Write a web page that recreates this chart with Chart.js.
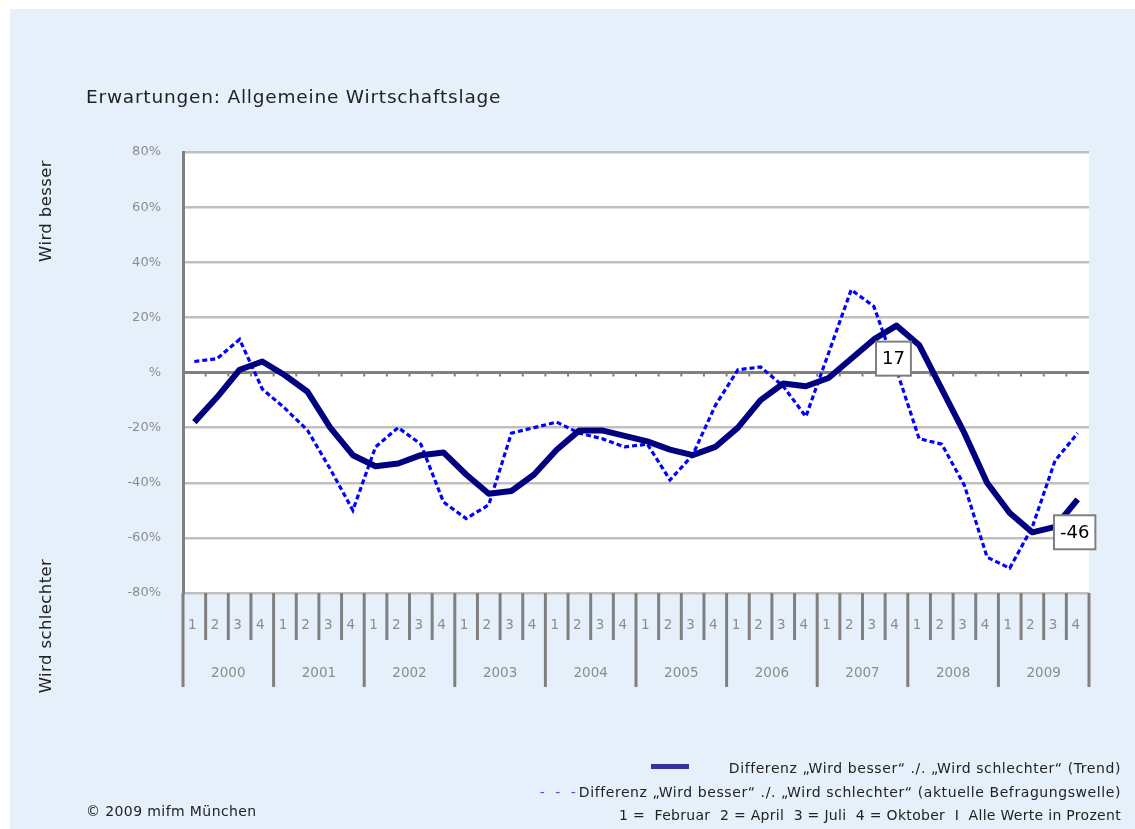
<!DOCTYPE html>
<html>
<head>
<meta charset="utf-8">
<script src="https://cdn.jsdelivr.net/npm/chart.js@4.4.1/dist/chart.umd.min.js"></script>
<style>
  body { margin: 0; background: #fff; width: 1135px; height: 829px; overflow: hidden; font-family: "DejaVu Sans", sans-serif; }
  #panel { position: absolute; left: 10px; top: 9px; width: 1125px; height: 820px; background: #e6f0fa; }
  canvas { position: absolute; left: 0; top: 0; }
  .txt { position: absolute; white-space: nowrap; color: #222; }
  .rot { transform: translate(-50%, -50%) rotate(-90deg); font-size: 16.5px; letter-spacing: 0.4px; }
  #legend { position: absolute; right: 14px; top: 757px; text-align: right; font-size: 14px; color: #222; line-height: 23.5px; }
  #legend .l { letter-spacing: 0.58px; }
  #legend .n { letter-spacing: 0.3px; }
  .swatch { display: inline-block; width: 38px; height: 5px; background: #333399; vertical-align: middle; margin-right: 40px; position: relative; top: -3px; }
  .dash { color: #3355ff; letter-spacing: 3px; }
</style>
</head>
<body>
<div id="panel"></div>
<canvas id="chart" width="1135" height="829"></canvas>
<div class="txt" style="left:86px; top:86px; font-size:18.5px; letter-spacing:0.8px;">Erwartungen: Allgemeine Wirtschaftslage</div>
<div class="txt rot" style="left:45px; top:211px;">Wird besser</div>
<div class="txt rot" style="left:45px; top:626px;">Wird schlechter</div>
<div id="legend">
  <div class="l"><span class="swatch"></span>Differenz „Wird besser“ ./. „Wird schlechter“ (Trend)</div>
  <div class="l"><span class="dash">- - -</span>Differenz „Wird besser“ ./. „Wird schlechter“ (aktuelle Befragungswelle)</div>
  <div class="n">1 =&nbsp; Februar&nbsp; 2 = April&nbsp; 3 = Juli&nbsp; 4 = Oktober&nbsp; I&nbsp; Alle Werte in Prozent</div>
</div>
<div class="txt" style="left:86px; top:803px; font-size:14px; letter-spacing:0.4px;">© 2009 mifm München</div>

<script>
// Quartale 2000 - 2009
const years = ['2000', '2001', '2002', '2003', '2004', '2005', '2006', '2007', '2008', '2009'];
const quarters = ['1', '2', '3', '4'];

// Differenz "Wird besser" ./. "Wird schlechter" (Trend)
const trend = [-18, -9, 1, 4, -1, -7, -20, -30, -34, -33, -30, -29, -37, -44, -43, -37,
    -28, -21, -21, -23, -25, -28, -30, -27, -20, -10, -4, -5, -2, 5, 12, 17,
    10, -6, -22, -40, -51, -58, -56, -46];

// Differenz (aktuelle Befragungswelle)
const wave = [4, 5, 12, -6, -13, -21, -35, -50, -27, -20, -26, -47, -53, -48, -22, -20,
    -18, -22, -24, -27, -26, -39, -30, -12, 1, 2, -5, -16, 7, 30, 24, 1,
    -24, -26, -41, -67, -71, -56, -32, -22];

const yTicks = [80, 60, 40, 20, 0, -20, -40, -60, -80];
const boxedPoints = [31, 39]; // Werte mit Kasten

const labels = [];
years.forEach(y => quarters.forEach(q => labels.push(y + '/' + q)));

const decor = {
    id: 'decor',
    beforeDraw(chart) {
        const { ctx, chartArea: a } = chart;
        ctx.save();
        ctx.fillStyle = '#fff';
        ctx.fillRect(a.left, a.top, a.right - a.left, a.bottom - a.top);
        ctx.restore();
    },
    beforeDatasetsDraw(chart) {
        const { ctx, scales } = chart;
        const x = scales.x, y = scales.y;
        const y0 = y.getPixelForValue(0);
        // kleine Striche an der Nulllinie
        ctx.save();
        ctx.strokeStyle = '#808080';
        ctx.lineWidth = 2;
        for (let i = 1; i < labels.length; i++) {
            const xb = (x.getPixelForValue(i - 1) + x.getPixelForValue(i)) / 2;
            ctx.beginPath();
            ctx.moveTo(xb, y0);
            ctx.lineTo(xb, y0 + 4);
            ctx.stroke();
        }
        ctx.restore();
    },
    afterDraw(chart) {
        const { ctx, scales, chartArea: a } = chart;
        const x = scales.x;
        const half = (x.getPixelForValue(1) - x.getPixelForValue(0)) / 2;

        ctx.save();
        // Trennstriche unter der Achse
        ctx.strokeStyle = '#808080';
        ctx.lineWidth = 3;
        for (let i = 0; i <= labels.length; i++) {
            const xb = i < labels.length ? x.getPixelForValue(i) - half : x.getPixelForValue(i - 1) + half;
            const long = i % 4 === 0;
            ctx.beginPath();
            ctx.moveTo(xb, a.bottom);
            ctx.lineTo(xb, a.bottom + (long ? 94 : 47));
            ctx.stroke();
        }
        // Quartals- und Jahresbeschriftung
        ctx.fillStyle = '#8c8c8c';
        ctx.textAlign = 'center';
        ctx.textBaseline = 'middle';
        ctx.font = '13.5px "DejaVu Sans"';
        labels.forEach((l, i) => {
            ctx.fillText(quarters[i % 4], x.getPixelForValue(i) - 2, a.bottom + 32);
        });
        years.forEach((yr, j) => {
            const xc = (x.getPixelForValue(j * 4) + x.getPixelForValue(j * 4 + 3)) / 2;
            ctx.fillText(yr, xc, a.bottom + 80);
        });

        // Wertekästen
        const meta = chart.getDatasetMeta(0);
        ctx.font = '18px "DejaVu Sans"';
        boxedPoints.forEach(i => {
            const p = meta.data[i];
            const txt = String(trend[i]);
            const w = ctx.measureText(txt).width + 12;
            const h = 34;
            const bx = p.x - 3 - w / 2, by = p.y + 16;
            ctx.fillStyle = '#fff';
            ctx.fillRect(bx, by, w, h);
            ctx.strokeStyle = '#808080';
            ctx.lineWidth = 2;
            ctx.strokeRect(bx, by, w, h);
            ctx.fillStyle = '#000';
            ctx.fillText(txt, bx + w / 2, by + h / 2 + 1);
        });
        ctx.restore();
    }
};

new Chart(document.getElementById('chart'), {
    type: 'line',
    data: {
        labels: labels,
        datasets: [{
            label: 'Trend',
            data: trend,
            borderColor: '#000080',
            borderWidth: 6,
            pointRadius: 0,
            tension: 0,
            borderJoinStyle: 'round'
        }, {
            label: 'Befragungswelle',
            data: wave,
            borderColor: '#0000ff',
            borderWidth: 3.2,
            borderDash: [5, 3],
            pointRadius: 0,
            tension: 0
        }]
    },
    options: {
        responsive: false,
        animation: false,
        layout: { padding: { left: 10, right: 46, top: 152, bottom: 236 } },
        plugins: {
            legend: { display: false },
            tooltip: { enabled: false }
        },
        scales: {
            x: { display: false, offset: true },
            y: {
                min: -80,
                max: 80,
                afterFit(scale) { scale.width = 173; },
                afterBuildTicks(scale) { scale.ticks = yTicks.map(v => ({ value: v })); },
                ticks: {
                    color: '#8c8c8c',
                    font: { family: 'DejaVu Sans', size: 13 },
                    padding: 22,
                    callback: v => (v === 0 ? '%' : v + '%')
                },
                grid: {
                    drawTicks: false,
                    color: ctx => (ctx.tick && ctx.tick.value === 0 ? '#808080' : '#c0c0c0'),
                    lineWidth: ctx => (ctx.tick && ctx.tick.value === 0 ? 3 : 2.5)
                },
                border: { color: '#808080', width: 3 }
            }
        }
    },
    plugins: [decor]
});
</script>
</body>
</html>
